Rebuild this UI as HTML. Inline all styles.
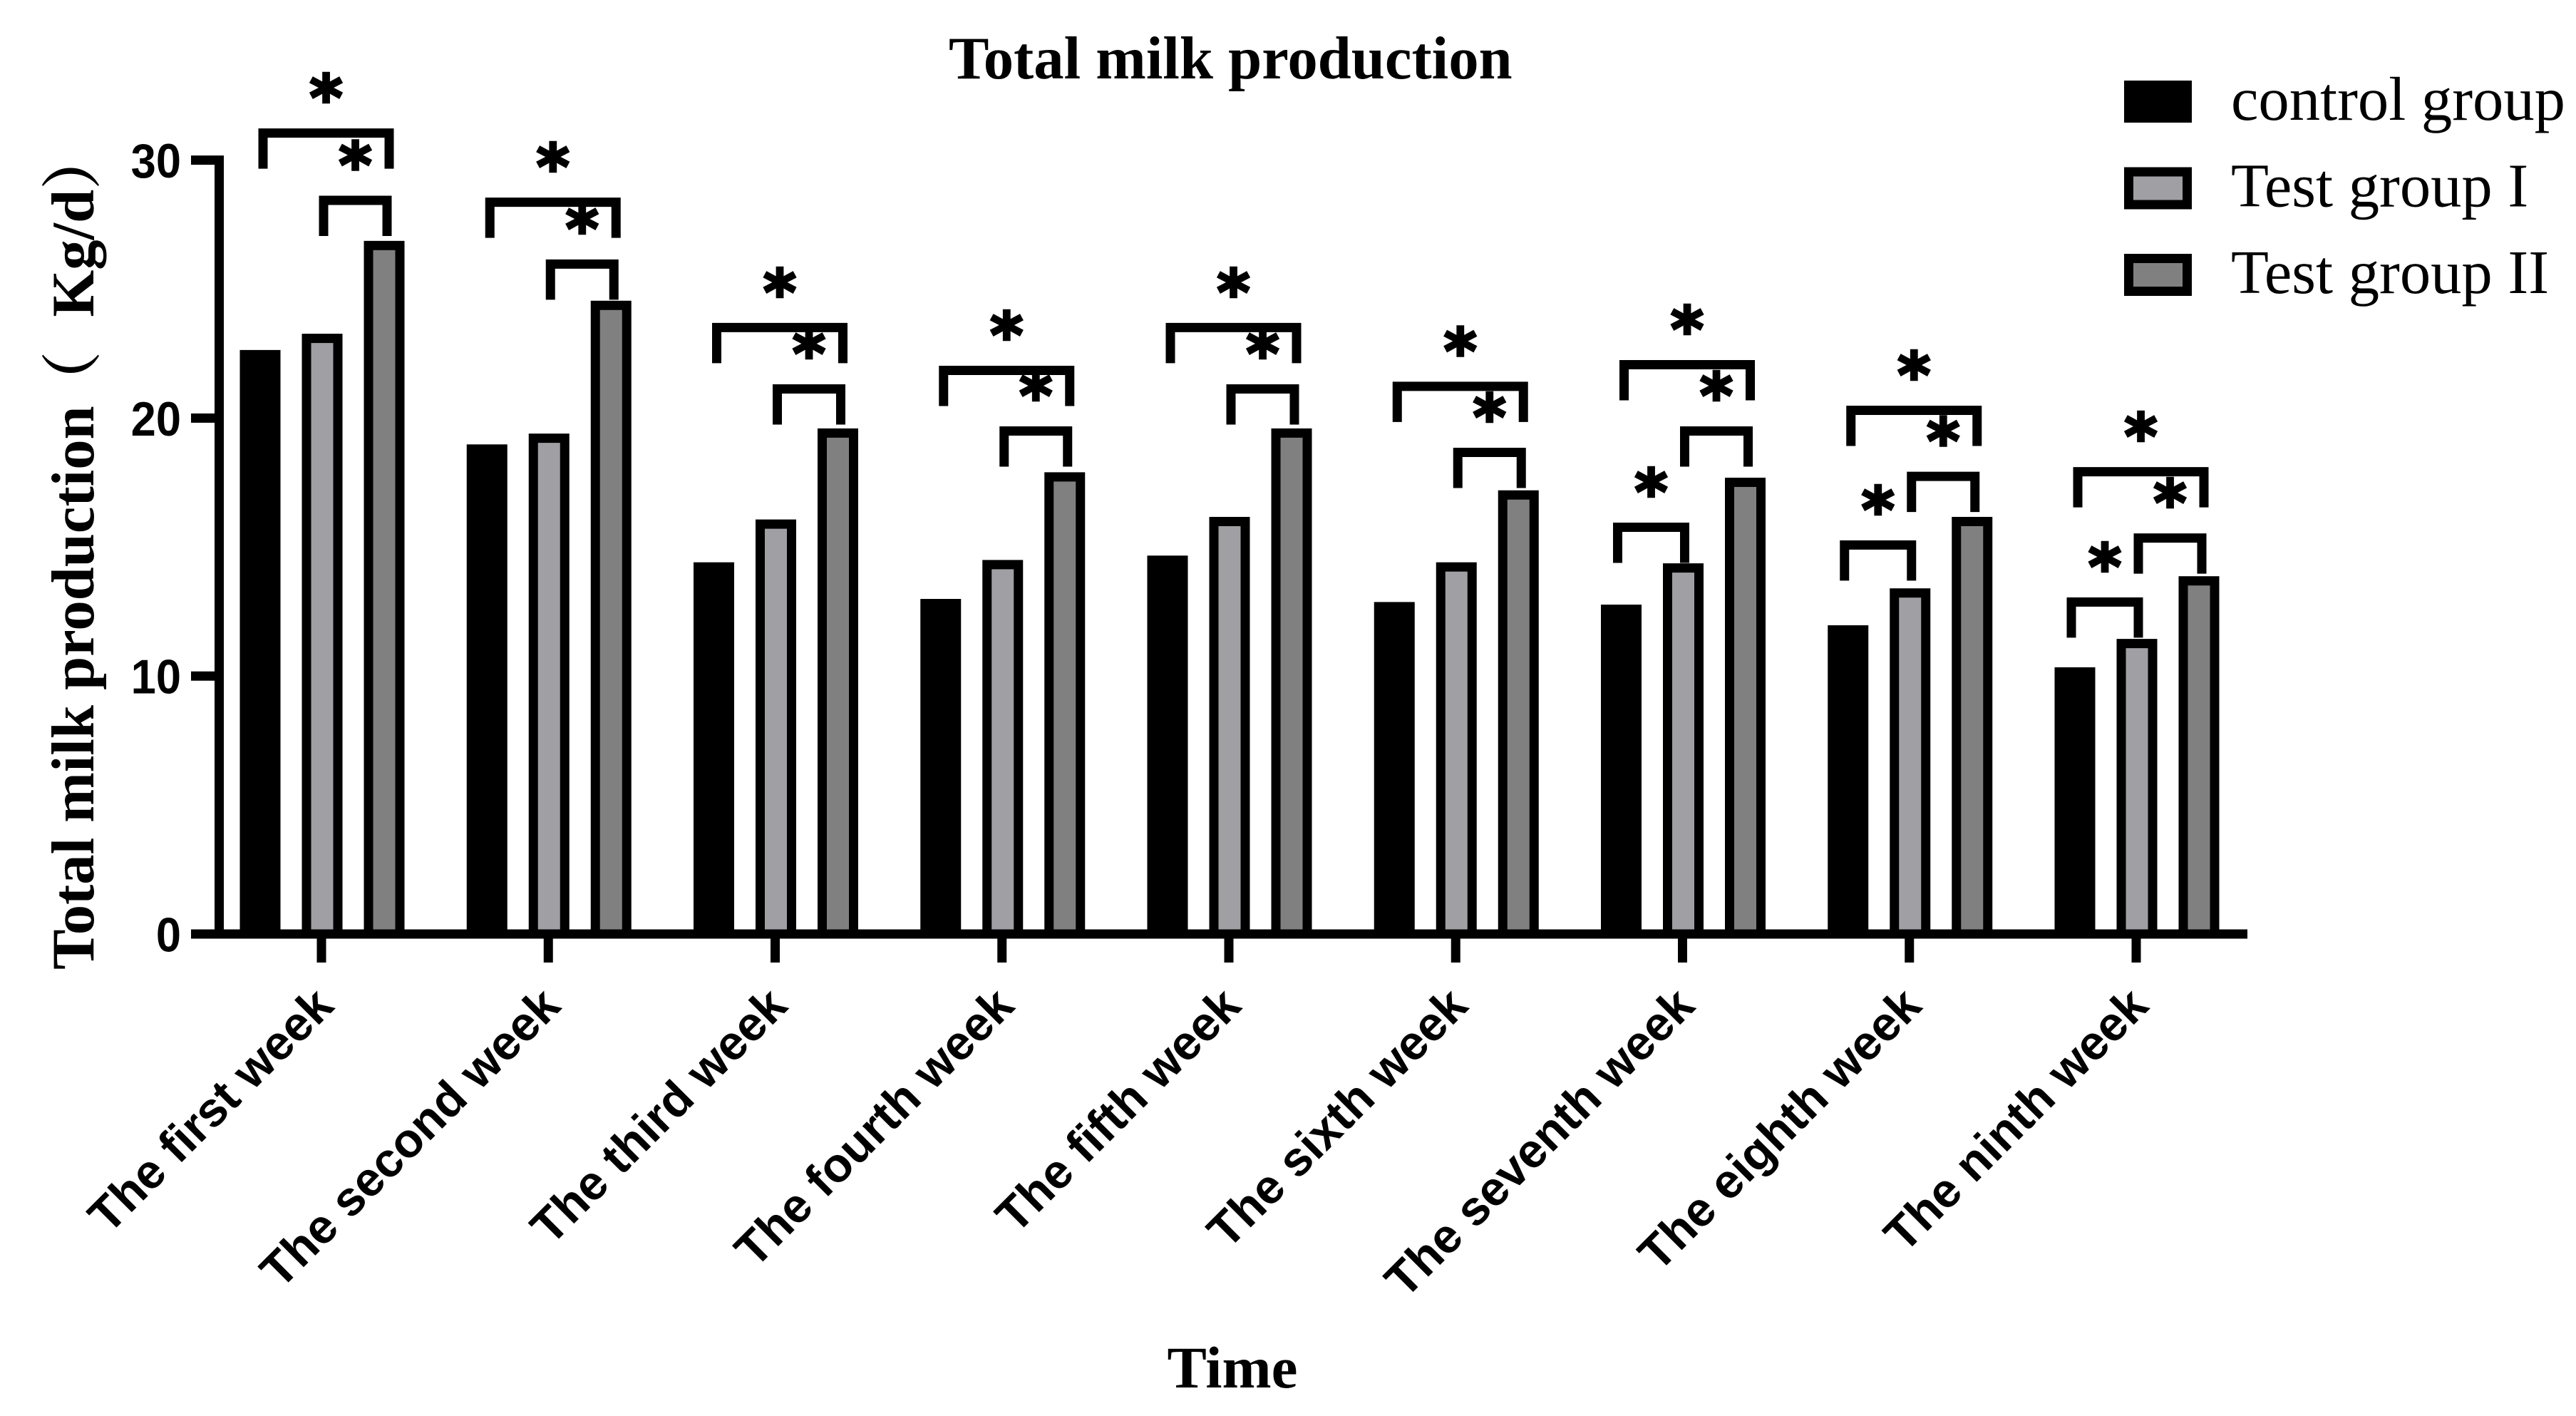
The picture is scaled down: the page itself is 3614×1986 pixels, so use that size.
<!DOCTYPE html>
<html lang="en">
<head>
<meta charset="utf-8">
<title>Total milk production</title>
<style>
html,body{margin:0;padding:0;background:#fff;}
svg{display:block;}
.serif{font-family:"Liberation Serif","Noto Serif CJK SC",serif;fill:#000;}
.sans{font-family:"Liberation Sans",sans-serif;fill:#000;font-weight:bold;}
.star{font-family:"DejaVu Sans",sans-serif;font-weight:bold;fill:#000;stroke:#000;stroke-width:3.5;text-anchor:middle;}
</style>
</head>
<body>
<svg id="chart" xmlns="http://www.w3.org/2000/svg" width="3614" height="1986" viewBox="0 0 3614 1986">
  <rect x="0" y="0" width="3614" height="1986" fill="#ffffff"/>
  <text class="serif" x="1331" y="110" font-size="84.7" font-weight="bold">Total milk production</text>
  <text class="serif" x="1729" y="1946" font-size="83" font-weight="bold" text-anchor="middle">Time</text>
  <text class="serif" transform="translate(131 1360) rotate(-90)" font-size="84.7" font-weight="bold">Total milk production<tspan dx="-8">（</tspan><tspan dx="48">Kg/d</tspan><tspan dx="0">）</tspan></text>
  <g id="bars"></g>
  <g id="brackets"></g>
  <g id="axes"></g>
  <g id="legend"></g>
</svg>
<script>
const categories = ["The first week","The second week","The third week","The fourth week","The fifth week","The sixth week","The seventh week","The eighth week","The ninth week"];
const seriesNames = ["control group","Test group I","Test group II"];
const controlGroup = [22.64,18.98,14.41,12.99,14.67,12.87,12.77,11.97,10.34];
const testGroupOne = [23.27,19.40,16.07,14.50,16.17,14.41,14.37,13.40,11.44];
const testGroupTwo = [26.87,24.55,19.60,17.90,19.60,17.20,17.69,16.17,13.87];
const yTicks = [0,10,20,30];
const outerBracketLevel = [31.05,28.37,23.51,21.85,23.51,21.23,22.07,20.30,17.92];
const innerBracketLevel = [28.44,25.97,21.13,19.50,21.13,18.67,19.50,17.74,15.35];
const leftBracketLevel = [null,null,null,null,null,null,15.77,15.08,12.87];

const NS = "http://www.w3.org/2000/svg";
const Y_ZERO = 1310, UNITS_PER_TEN = 361.8;
const FIRST_CENTER = 451, BAND = 318.25;
const BAR_WIDTH = 57, STROKE = 13;
const seriesOffset = [-86, 1, 88];
const seriesFill = ["#000000", "#a0a0a4", "#808080"];

function yScale(v) { return Y_ZERO - v * UNITS_PER_TEN / 10; }
function xScale(i) { return FIRST_CENTER + BAND * i; }
function make(parent, tag, attrs, text) {
  const el = document.createElementNS(NS, tag);
  for (const k in attrs) el.setAttribute(k, attrs[k]);
  if (text !== undefined) el.textContent = text;
  parent.appendChild(el);
  return el;
}

const barsLayer = document.getElementById("bars");
const bracketLayer = document.getElementById("brackets");
const axesLayer = document.getElementById("axes");
const legendLayer = document.getElementById("legend");

const seriesValues = [controlGroup, testGroupOne, testGroupTwo];
seriesValues.forEach(function (values, s) {
  values.forEach(function (v, i) {
    const left = xScale(i) + seriesOffset[s] - BAR_WIDTH / 2;
    const top = yScale(v);
    const bar = make(barsLayer, "rect", {
      x: left + STROKE / 2, y: top + STROKE / 2,
      width: BAR_WIDTH - STROKE, height: Y_ZERO - top - STROKE / 2,
      fill: seriesFill[s], stroke: "#000", "stroke-width": STROKE
    });
    
    
  });
});

function drawBracket(level, i, fromOffset, toOffset, label) {
  const cx = xScale(i);
  const yTop = yScale(level);
  const x1 = cx + fromOffset, x2 = cx + toOffset;
  const path = make(bracketLayer, "path", {
    d: "M" + x1 + " " + (yTop + 50) + "V" + yTop + "H" + x2 + "V" + (yTop + 50),
    fill: "none", stroke: "#000", "stroke-width": STROKE, "stroke-linejoin": "miter"
  });
  
  
  const star = make(bracketLayer, "text", {
    class: "star", x: (x1 + x2) / 2, y: yTop - 6.5 - 54 + 42, "font-size": 88
  }, "*");
  
  
}
categories.forEach(function (c, i) {
  drawBracket(outerBracketLevel[i], i, -82, 95, "outer");
  drawBracket(innerBracketLevel[i], i, 3, 92, "inner");
  if (leftBracketLevel[i] !== null) drawBracket(leftBracketLevel[i], i, -91, 3, "left");
});

const yAxisLine = make(axesLayer, "rect", { x: 301, y: yScale(30) - 6.5, width: 13, height: Y_ZERO - yScale(30) + 13, fill: "#000" });


const xAxisLine = make(axesLayer, "rect", { x: 268, y: Y_ZERO - 6.5, width: 3153 - 268, height: 13, fill: "#000" });



yTicks.forEach(function (t) {
  const y = yScale(t);
  const tick = make(axesLayer, "rect", { x: 268, y: y - 6.5, width: 34, height: 13, fill: "#000" });
  
  
  const label = make(axesLayer, "text", {
    class: "sans", "font-size": 68, "text-anchor": "end",
    transform: "translate(254 " + (y + 24.5) + ") scale(0.93 1)"
  }, String(t));
  
  
});

categories.forEach(function (c, i) {
  const cx = xScale(i);
  const tick = make(axesLayer, "rect", { x: cx - 6.5, y: Y_ZERO, width: 13, height: 40, fill: "#000" });
  
  
  const lx = cx + 20, ly = 1414;
  const label = make(axesLayer, "text", {
    class: "sans", x: lx, y: ly, "font-size": 67.6, "text-anchor": "end",
    transform: "rotate(-45 " + lx + " " + ly + ")"
  }, c);
  
  
});

const LEGEND_TOP = 113, LEGEND_STEP = 121.5;
seriesNames.forEach(function (name, s) {
  const top = LEGEND_TOP + LEGEND_STEP * s;
  const swatch = make(legendLayer, "rect", {
    x: 2980 + STROKE / 2, y: top + STROKE / 2, width: 95 - STROKE, height: 59 - STROKE,
    fill: seriesFill[s], stroke: "#000", "stroke-width": STROKE
  });
  
  
  const label = make(legendLayer, "text", { class: "serif", x: 3130, y: top + 55, "font-size": 86.6 }, name);
  
  
});
</script>
</body>
</html>
